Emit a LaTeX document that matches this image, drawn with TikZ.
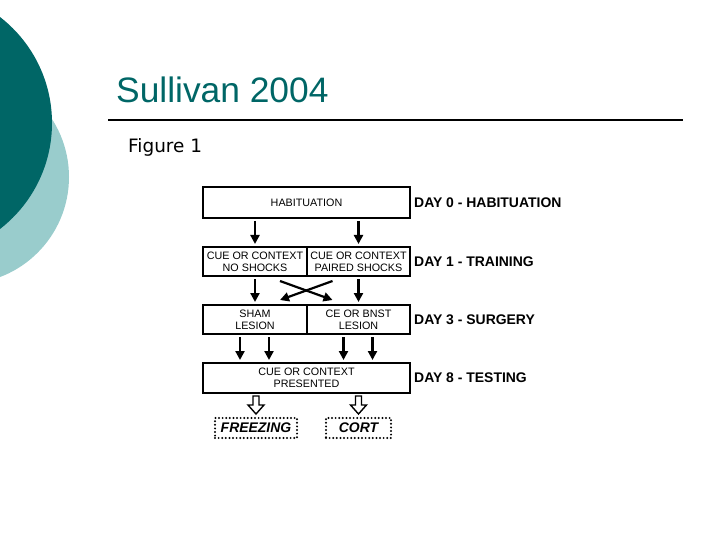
\documentclass[tikz,border=0pt]{standalone}
\usepackage{fontspec}
\setmainfont{Liberation Sans}
\newfontfamily\figfont{DejaVu Sans}
\usetikzlibrary{positioning,calc,arrows.meta}
\definecolor{tealdark}{RGB}{0,102,102}
\definecolor{teallight}{RGB}{153,204,204}
\def\slidebox{(0,0) rectangle (720,540)}
\def\circleDark{(-82,123) circle (134)}
\def\circleLight{(-38,177) circle (107)}
\def\openarrow{-- ++(-3,0) -- ++(0,9) -- ++(-5,0) -- ++(8,9) -- ++(8,-9) -- ++(-5,0) -- ++(0,-9) -- cycle}

\begin{document}
\begin{tikzpicture}[x=1bp,y=-1bp,
	box/.style={draw, line width=1.4bp, minimum height=29bp, inner sep=0pt, outer sep=0pt, align=center, font=\fontsize{10.8}{12}\selectfont},
	day/.style={font=\bfseries\fontsize{14}{16}\selectfont, inner sep=0pt},
	arr/.style={line width=2.2bp, -{Triangle[length=9bp,width=9bp]}, shorten <=3bp, shorten >=3bp},
	dots/.style={draw, line width=2.2bp, dash pattern=on 0bp off 3.6bp, line cap=round, minimum height=20bp, inner sep=0pt, font=\bfseries\itshape\fontsize{14}{16}\selectfont}]
	\useasboundingbox \slidebox;
	\begin{scope}
	  \clip \slidebox;
	  \fill[teallight] \circleLight;
	  \fill[tealdark] \circleDark;
	\end{scope}
	% title and rule
	\node[anchor=base west, inner sep=0pt, text=tealdark, font=\fontsize{35.5}{40}\selectfont] (title) at (116,103) {Sullivan 2004};
	\draw[line width=2bp] (108,120) -- (683,120);
	\node[anchor=base west, inner sep=0pt, font=\figfont\fontsize{18.5}{20}\selectfont] (fig) at (128,153) {Figure 1};
	% boxes
	\node[box, minimum width=207bp, minimum height=31bp] (hab) at (306.5,202.5) {HABITUATION};
	\node[box, minimum width=104bp] (nl) at (255,261.5) {CUE OR CONTEXT\\NO SHOCKS};
	\node[box, minimum width=103bp, right=0pt of nl] (ps) {CUE OR CONTEXT\\PAIRED SHOCKS};
	\node[box, minimum width=104bp] (sh) at (255,319.5) {SHAM\\LESION};
	\node[box, minimum width=103bp, right=0pt of sh] (ce) {CE OR BNST\\LESION};
	\node[box, minimum width=207bp, minimum height=30bp] (test) at (306.5,378) {CUE OR CONTEXT\\PRESENTED};
	\node[dots, minimum width=82bp] (frz) at (256,428) {FREEZING};
	\node[dots, minimum width=65bp] (cort) at (358.5,428) {CORT};
	% day labels
	\node[day, right=4bp of hab] (d0) {DAY 0 - HABITUATION};
	\node[day, right=4bp of ps] (d1) {DAY 1 - TRAINING};
	\node[day, right=4bp of ce] (d3) {DAY 3 - SURGERY};
	\node[day, right=4bp of test] (d8) {DAY 8 - TESTING};
	% arrows
	\draw[arr] (hab.south -| nl.north) -- (nl.north);
	\draw[arr] (hab.south -| ps.north) -- (ps.north);
	\draw[arr] (nl.south) -- (sh.north);
	\draw[arr] (ps.south) -- (ce.north);
	\draw[arr, shorten <=0bp, shorten >=0bp] ($(nl.south)+(25,5)$) -- ($(ce.north)+(-26,-5)$);
	\draw[arr, shorten <=0bp, shorten >=0bp] ($(ps.south)+(-26,5)$) -- ($(sh.north)+(25,-5)$);
	\foreach \lesion in {sh,ce}
	  \foreach \dx in {-15,14} {
	    \coordinate (a) at ([xshift=\dx bp]\lesion.south);
	    \draw[arr] (a) -- (a |- test.north);
	  }
	\draw[line width=1.4bp, fill=white] ($(test.south -| frz.north)+(0,3)$) \openarrow;
	\draw[line width=1.4bp, fill=white] ($(test.south -| cort.north)+(0,3)$) \openarrow;
\end{tikzpicture}
\end{document}
